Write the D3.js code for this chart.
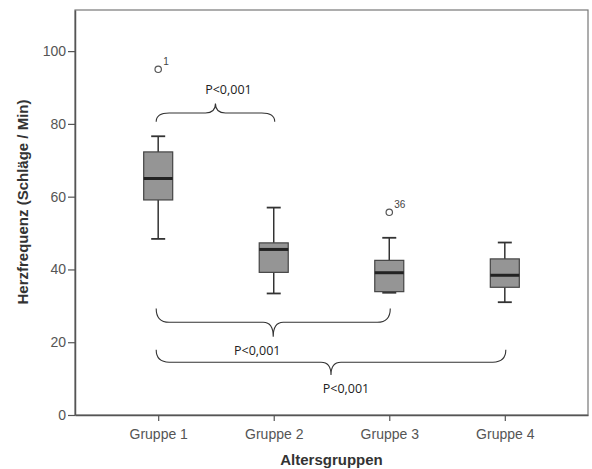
<!DOCTYPE html>
<html><head><meta charset="utf-8">
<script src="https://cdn.jsdelivr.net/npm/d3@7"></script>
<style>body{margin:0;background:#fff}</style>
</head><body>
<svg id="c" width="592" height="469"></svg>
<script>
const groups = ["Gruppe 1","Gruppe 2","Gruppe 3","Gruppe 4"];
const whiskerLow  = [48.4, 33.4, 33.6, 31.0];
const q1          = [59.1, 39.2, 33.9, 35.1];
const median      = [65.0, 45.5, 39.1, 38.4];
const q3          = [72.3, 47.3, 42.5, 42.9];
const whiskerHigh = [76.6, 57.0, 48.7, 47.4];
const outliers = [{g:"Gruppe 1", v:95.0, label:"1"}, {g:"Gruppe 3", v:55.7, label:"36"}];
const yTicks = [0,20,40,60,80,100];
// brackets: from group, to group, y at ends, y of bar, y at tip (data units)
const braceFrom = ["Gruppe 1","Gruppe 1","Gruppe 1"];
const braceTo   = ["Gruppe 2","Gruppe 3","Gruppe 4"];
const braceEnd  = [80.6, 29.3, 17.9];
const braceBar  = [83.0, 25.5, 14.5];
const braceTip  = [85.6, 21.5, 11.0];
const braceText = ["P<0,001","P<0,001","P<0,001"];

const svg = d3.select("#c");
const L=75, R=588, T=10, B=415;
const x = d3.scalePoint().domain(groups).range([L,R]).padding(0.72);
const y = d3.scaleLinear().domain([0,111.3]).range([B,T]);

// frame
svg.append("rect").attr("x",L).attr("y",T).attr("width",R-L).attr("height",B-T)
  .attr("fill","none").attr("stroke","#777").attr("stroke-width",1.2);

const yAxis = svg.append("g").attr("transform",`translate(${L},0)`)
  .call(d3.axisLeft(y).tickValues(yTicks).tickSize(7).tickSizeOuter(0).tickPadding(2));
const xAxis = svg.append("g").attr("transform",`translate(0,${B})`)
  .call(d3.axisBottom(x).tickSize(6).tickSizeOuter(0).tickPadding(8));
[yAxis,xAxis].forEach(a=>{
  a.select(".domain").attr("stroke","#555").attr("stroke-width",1.5);
  a.selectAll(".tick line").attr("stroke","#555").attr("stroke-width",1.2);
  a.selectAll("text").attr("fill","#555").style("font-family","Liberation Sans, Arial, sans-serif").style("font-size","14px");
});

svg.append("text").attr("x",(L+R)/2).attr("y",465).attr("text-anchor","middle")
  .style("font-family","Liberation Sans, Arial, sans-serif").style("font-size","15px").style("font-weight","bold")
  .attr("fill","#333").text("Altersgruppen");
svg.append("text").attr("transform",`translate(28,202) rotate(-90)`).attr("text-anchor","middle")
  .style("font-family","Liberation Sans, Arial, sans-serif").style("font-size","15px").style("font-weight","bold")
  .attr("fill","#333").text("Herzfrequenz (Schläge / Min)");

const bw = 29, cw = 14;
const g = svg.append("g");
groups.forEach((name,i)=>{
  const cx = x(name);
  g.append("line").attr("x1",cx).attr("x2",cx).attr("y1",y(whiskerLow[i])).attr("y2",y(q1[i])).attr("stroke","#333").attr("stroke-width",1.5);
  g.append("line").attr("x1",cx).attr("x2",cx).attr("y1",y(q3[i])).attr("y2",y(whiskerHigh[i])).attr("stroke","#333").attr("stroke-width",1.5);
  g.append("line").attr("x1",cx-cw/2).attr("x2",cx+cw/2).attr("y1",y(whiskerLow[i])).attr("y2",y(whiskerLow[i])).attr("stroke","#333").attr("stroke-width",1.8);
  g.append("line").attr("x1",cx-cw/2).attr("x2",cx+cw/2).attr("y1",y(whiskerHigh[i])).attr("y2",y(whiskerHigh[i])).attr("stroke","#333").attr("stroke-width",1.8);
  g.append("rect").attr("x",cx-bw/2).attr("width",bw).attr("y",y(q3[i])).attr("height",y(q1[i])-y(q3[i]))
    .attr("fill","#959595").attr("stroke","#444").attr("stroke-width",1.2);
  g.append("line").attr("x1",cx-bw/2).attr("x2",cx+bw/2).attr("y1",y(median[i])).attr("y2",y(median[i])).attr("stroke","#222").attr("stroke-width",3);
});
outliers.forEach(o=>{
  g.append("circle").attr("cx",x(o.g)).attr("cy",y(o.v)).attr("r",3.2).attr("fill","#fff").attr("stroke","#555").attr("stroke-width",1.2);
  g.append("text").attr("x",x(o.g)+5).attr("y",y(o.v)-4).style("font-family","Liberation Sans, Arial, sans-serif").style("font-size","10px").attr("fill","#444").text(o.label);
});

// braces
const textDx = [13,-16,15];
braceFrom.forEach((f,i)=>{
  const x1 = x(f)-2, x2 = x(braceTo[i])+1;
  const ye = y(braceEnd[i]), yb = y(braceBar[i]), yt = y(braceTip[i]);
  const xm = (x1+x2)/2;
  const r = 13, rt = 10;
  const p = d3.path();
  p.moveTo(x1,ye);
  p.quadraticCurveTo(x1,yb,x1+r,yb);
  p.lineTo(xm-rt,yb);
  p.quadraticCurveTo(xm,yb,xm,yt);
  p.quadraticCurveTo(xm,yb,xm+rt,yb);
  p.lineTo(x2-r,yb);
  p.quadraticCurveTo(x2,yb,x2,ye);
  svg.append("path").attr("d",p.toString()).attr("fill","none").attr("stroke","#333").attr("stroke-width",1.1);
  const up = yt < yb;
  svg.append("text").attr("x",xm+textDx[i]).attr("y", up ? yt-9.5 : yt+18).attr("text-anchor","middle")
    .style("font-family","Open Sans, Noto Sans, sans-serif").style("font-size","12.5px").attr("fill","#222").text(braceText[i]);
});
</script>
</body></html>
